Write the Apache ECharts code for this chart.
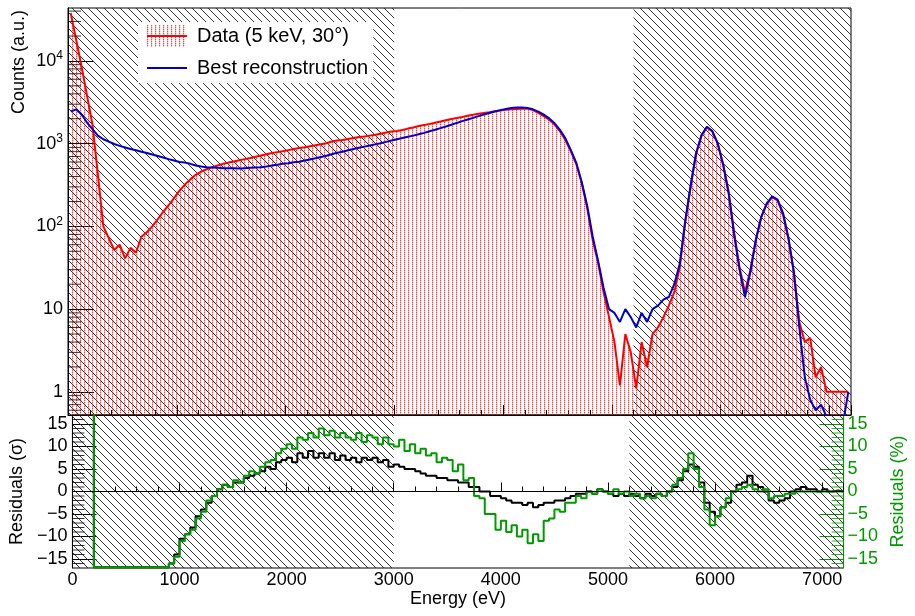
<!DOCTYPE html>
<html>
<head>
<meta charset="utf-8">
<script src="https://cdn.jsdelivr.net/npm/echarts@6/dist/echarts.min.js"></script>
<style>
html,body{margin:0;padding:0;background:#fff;}
#chart{width:915px;height:616px;}
</style>
</head>
<body>
<div id="chart"></div>
<script>
// ---------- data (50 eV bins starting at 0 eV) ----------
const binWidth = 50;
const energyMin = 0;
const energyMax = 7200;

const dataCounts = [
  38000, 18000, 8500, 3800, 1700, 420, 100, 72, 52, 60,
  41, 55, 48, 75, 85, 100, 122, 150, 180, 220,
  270, 320, 370, 420, 460, 490, 520, 545, 570, 590,
  610, 630, 650, 670, 695, 720, 745, 770, 790, 810,
  835, 860, 885, 905, 930, 955, 985, 1010, 1060, 1090,
  1110, 1140, 1170, 1200, 1220, 1250, 1280, 1320, 1360, 1400,
  1420, 1460, 1520, 1570, 1630, 1680, 1730, 1790, 1850, 1920,
  1980, 2040, 2100, 2170, 2230, 2300, 2350, 2400, 2460, 2510,
  2560, 2600, 2620, 2640, 2650, 2550, 2350, 2150, 1950, 1700,
  1400, 1100, 800, 560, 330, 165, 68, 36, 16, 8,
  4, 1.2, 5, 3, 1.1, 4, 2, 5, 6, 8,
  11, 16, 32, 110, 300, 750, 1250, 1580, 1400, 1000,
  560, 260, 85, 32, 16, 30, 70, 130, 185, 225,
  205, 140, 70, 27, 7, 4, 4.5, 1.5, 2, 1,
  1, 1, 1, 1
];

const recoCounts = [
  2450, 2600, 2250, 1800, 1500, 1250, 1130, 1060, 990, 940,
  900, 860, 830, 800, 770, 740, 710, 680, 650, 625,
  600, 590, 570, 545, 530, 520, 515, 510, 505, 505,
  505, 500, 505, 510, 515, 520, 530, 545, 555, 570,
  580, 595, 605, 625, 645, 665, 690, 715, 745, 775,
  800, 830, 860, 890, 920, 950, 980, 1010, 1050, 1090,
  1130, 1170, 1210, 1250, 1300, 1350, 1410, 1470, 1540, 1610,
  1690, 1780, 1870, 1960, 2050, 2150, 2250, 2350, 2450, 2540,
  2620, 2690, 2730, 2730, 2690, 2600, 2440, 2240, 2020, 1760,
  1460, 1150, 830, 580, 340, 175, 75, 38, 18, 10,
  9, 7, 10, 8, 6, 9, 7, 10, 11, 13,
  14, 20, 35, 115, 310, 760, 1260, 1600, 1420, 1000,
  550, 250, 80, 30, 14, 28, 68, 130, 190, 230,
  210, 145, 72, 28, 6, 1.5, 0.8, 0.6, 0.7, 0.5,
  0.4, 0.5, 0.4, 1.0
];

// residuals in sigma (black); values outside +-17 are off scale
const residSigma = [
  40, 40, 40, 40, -16.85, -16.85, -16.85, -16.85, -16.85, -16.85,
  -16.85, -16.85, -16.85, -16.85, -16.85, -16.85, -16.85, -16.85, -16, -14,
  -10.5, -9.5, -8, -5.5, -4, -2.5, -1, 0.5, 1.5, 1,
  2, 2, 3, 3.5, 4, 4.5, 5.5, 5, 6.5, 7,
  7.5, 6.5, 8.5, 7.5, 9, 7.5, 8.5, 7.5, 8.5, 7,
  8, 7, 7.5, 6.5, 7.5, 7, 7.5, 6.5, 7, 5.5,
  6, 5.5, 5, 5, 4.5, 4, 3.5, 3.5, 3, 3,
  2.5, 2.5, 2, 2, 1, 1, 0, 0, -1, -1,
  -1.5, -2, -2.5, -2.5, -3, -2.5, -3.5, -3, -2.5, -2.5,
  -2, -2, -1.5, -1, -0.5, -0.5, 0, -0.5, 0.5, 0,
  -0.5, -1, -0.5, -1, -0.5, -1, -1.5, -0.5, -1, -0.5,
  -1, 0, 1, 2.5, 4.5, 6, 5.5, 2, -2.5, -4.5,
  -5.5, -3.5, -2.5, 0, 1.5, 2, 3.5, 1.5, 1, 0,
  -2, -2.5, -2, -1.5, 0, 0.5, 1, 0.5, 0.5, 0,
  0.5, 0, 0.2, 0
];

// residuals in percent (green)
const residPercent = [
  40, 40, 40, 40, -16.85, -16.85, -16.85, -16.85, -16.85, -16.85,
  -16.85, -16.85, -16.85, -16.85, -16.85, -16.85, -16.85, -16.85, -16, -14.5,
  -11, -9.5, -8.5, -6, -4.5, -2, -1, 0.5, 1.5, 1,
  2.5, 2, 3.5, 4.5, 4, 5.5, 6.5, 7, 8.5, 9.5,
  10.5, 9.5, 12, 11.5, 13, 12, 14, 12.5, 13.5, 12,
  13, 12, 11.5, 13, 11, 12.5, 12, 10.5, 12, 10.5,
  10, 11.5, 9, 10.5, 8.5, 9.5, 8, 8.5, 6.5, 7.5,
  7, 4.5, 6, 2.5, 3, -1, -1.5, -5, -5, -8.5,
  -6.5, -9, -7.5, -10, -8.5, -11.5, -9.5, -11, -6.5, -6,
  -4, -4.5, -2.5, -2.5, -1, -1.5, 0, -0.5, 0.5, 0,
  -0.5, 0.5, -0.5, 0, -1, -0.5, -1.5, -1, -1.5, -0.5,
  -1, 0, 1.5, 3, 5, 8.5, 5, 1, -4, -7.5,
  -5.5, -3.5, -1.5, 0, 0.5, 1, 1.5, 0.5, 0, 0.5,
  -1.5, -1, -1, -0.5, -0.5, 0, 0, 0, 0, 0,
  0, 0, 0, 0
];

// excluded (hatched) energy ranges
const hatchRanges = [[0, 3000], [5200, 7200]];

// axis ranges and tick values
const countsRange = [0.525, 43600];
const residRange = [-17, 17];
const logMinorTicks = [0.6, 0.7, 0.8, 0.9, 2, 3, 4, 5, 6, 7, 8, 9, 20, 30, 40, 50, 60, 70, 80, 90,
  200, 300, 400, 500, 600, 700, 800, 900, 2000, 3000, 4000, 5000, 6000, 7000, 8000, 9000, 20000, 30000, 40000];
const residMinorTicks = [-16, -14, -13, -12, -11, -9, -8, -7, -6, -4, -3, -2, -1, 1, 2, 3, 4, 6, 7, 8, 9, 11, 12, 13, 14, 16];

const dataName = 'Data (5 keV, 30\u00B0)';
const recoName = 'Best reconstruction';

// ---------- helpers ----------
function toSteps(vals) {            // histogram outline from bin edges
  const pts = vals.map((v, i) => [energyMin + i * binWidth, v]);
  pts.push([energyMin + vals.length * binWidth, vals[vals.length - 1]]);
  return pts;
}
function toCenters(vals) {          // points at bin centres
  return vals.map((v, i) => [energyMin + (i + 0.5) * binWidth, v]);
}
function dotCanvas() {
  const c = document.createElement('canvas');
  c.width = 4; c.height = 2;
  const g = c.getContext('2d');
  g.fillStyle = 'rgba(255,0,0,0.75)'; g.fillRect(0, 0, 1, 1);
  g.fillStyle = 'rgba(255,0,0,0.18)'; g.fillRect(1, 0, 1, 1);
  g.fillStyle = 'rgba(255,0,0,0.3)'; g.fillRect(0, 1, 1, 1);
  return c;
}
function hatchCanvas() {
  const s = 8;
  const c = document.createElement('canvas');
  c.width = s; c.height = s;
  const g = c.getContext('2d');
  g.strokeStyle = 'rgba(30,30,30,0.9)';
  g.lineWidth = 1;
  g.beginPath();
  g.moveTo(-1, -1); g.lineTo(s + 1, s + 1);
  g.moveTo(-1, s - 1); g.lineTo(1, s + 1);
  g.moveTo(s - 1, -1); g.lineTo(s + 1, 1);
  g.stroke();
  return c;
}
function legendIcon(withFill, color) {
  const c = document.createElement('canvas');
  c.width = 40; c.height = 22;
  const g = c.getContext('2d');
  if (withFill) {
    g.fillStyle = g.createPattern(dotCanvas(), 'repeat');
    g.fillRect(0, 0, 40, 22);
  }
  g.strokeStyle = color; g.lineWidth = 2;
  g.beginPath(); g.moveTo(0, 11); g.lineTo(40, 11); g.stroke();
  return c.toDataURL();
}

const FONT = 'Liberation Sans, Arial, Helvetica, sans-serif';
const GREEN = '#009a00';
const RED = '#ff0000';
const BLUE = '#0000cc';
const dotPattern = { image: dotCanvas(), repeat: 'repeat' };
const hatchPattern = { image: hatchCanvas(), repeat: 'repeat' };
const hatchAreas = hatchRanges.map(r => [{ xAxis: r[0] }, { xAxis: r[1] }]);
const minus = v => String(v).replace('-', '\u2212');

const chart = echarts.init(document.getElementById('chart'), null, { renderer: 'canvas' });

const option = {
  animation: false,
  textStyle: { fontFamily: FONT },
  grid: [
    { left: 68, top: 8, width: 783, height: 407, show: true, borderColor: '#000', borderWidth: 1, backgroundColor: 'transparent' },
    { left: 68, top: 415, width: 783, height: 153, show: true, borderColor: '#000', borderWidth: 1, backgroundColor: 'transparent' }
  ],
  legend: {
    left: 138, top: 22, orient: 'vertical', backgroundColor: '#fff',
    padding: [3, 5, 4, 9], itemGap: 10, itemWidth: 40, itemHeight: 22,
    selectedMode: false, z: 20,
    textStyle: { fontSize: 20, color: '#000', fontFamily: FONT, padding: [0, 0, 0, 5] },
    data: [
      { name: dataName, icon: 'image://' + legendIcon(true, RED) },
      { name: recoName, icon: 'image://' + legendIcon(false, BLUE) }
    ]
  },
  xAxis: [
    {
      gridIndex: 0, type: 'value', min: energyMin, max: energyMax, interval: 1000,
      axisLine: { show: true, lineStyle: { color: '#000', width: 1 } },
      axisTick: { show: true, inside: true, length: 10, lineStyle: { color: '#000' } },
      minorTick: { show: true, splitNumber: 5, length: 5, lineStyle: { color: '#000' } },
      axisLabel: { show: false },
      splitLine: { show: false }
    },
    {
      gridIndex: 1, type: 'value', min: energyMin, max: energyMax, interval: 1000,
      axisLine: { show: true, lineStyle: { color: '#000', width: 1 } },
      axisTick: { show: true, inside: true, length: 9, lineStyle: { color: '#000' } },
      minorTick: { show: true, splitNumber: 5, length: 5, lineStyle: { color: '#000' } },
      axisLabel: { show: true, fontSize: 18, color: '#000', margin: 3, fontFamily: FONT, formatter: v => String(v) },
      splitLine: { show: false },
      name: 'Energy (eV)', nameLocation: 'middle', nameGap: 22,
      nameTextStyle: { fontSize: 18, color: '#000', fontFamily: FONT }
    }
  ],
  yAxis: [
    {
      gridIndex: 0, type: 'log', logBase: 10, min: countsRange[0], max: countsRange[1],
      axisLine: { show: true, lineStyle: { color: '#000', width: 1 } },
      axisTick: { show: true, inside: true, length: 26, lineStyle: { color: '#000' } },
      splitLine: { show: false },
      axisLabel: {
        show: true, fontSize: 18, color: '#000', margin: 5, fontFamily: FONT,
        showMinLabel: false, showMaxLabel: false,
        formatter: function (v) {
          const e = Math.round(Math.log10(v));
          if (e === 0) return '1';
          if (e === 1) return '10';
          return '10{sup|' + e + '}';
        },
        rich: { sup: { fontSize: 12, padding: [0, 0, 10, 0], fontFamily: FONT, color: '#000' } }
      },
      name: 'Counts (a.u.)', nameLocation: 'end', nameRotate: 90, nameGap: -2,
      nameTextStyle: { fontSize: 18, color: '#000', fontFamily: FONT, align: 'right', verticalAlign: 'bottom', padding: [0, 0, 40, 0] }
    },
    {
      gridIndex: 1, type: 'value', min: residRange[0], max: residRange[1], splitNumber: 7,
      axisLine: { show: true, lineStyle: { color: '#000', width: 1 } },
      axisTick: { show: true, inside: true, length: 24, lineStyle: { color: '#000' } },
      splitLine: { show: false },
      axisLabel: { show: true, fontSize: 18, color: '#000', margin: 5, fontFamily: FONT, showMinLabel: false, showMaxLabel: false, formatter: minus },
      name: 'Residuals (\u03C3)', nameLocation: 'middle', nameRotate: 90, nameGap: 42,
      nameTextStyle: { fontSize: 18, color: '#000', fontFamily: FONT }
    },
    {
      gridIndex: 1, type: 'value', position: 'right', min: residRange[0], max: residRange[1], splitNumber: 7,
      axisLine: { show: true, lineStyle: { color: GREEN, width: 1 } },
      axisTick: { show: true, inside: true, length: 24, lineStyle: { color: GREEN } },
      splitLine: { show: false },
      axisLabel: { show: true, fontSize: 18, color: GREEN, margin: 4, fontFamily: FONT, showMinLabel: false, showMaxLabel: false, formatter: minus },
      name: 'Residuals (%)', nameLocation: 'middle', nameRotate: 90, nameGap: 41,
      nameTextStyle: { fontSize: 18, color: GREEN, fontFamily: FONT }
    }
  ],
  series: [
    {
      name: dataName, type: 'line', xAxisIndex: 0, yAxisIndex: 0,
      data: toCenters(dataCounts), symbol: 'none', silent: true, z: 1,
      lineStyle: { width: 0, opacity: 0 },
      areaStyle: { color: dotPattern, origin: 'start', opacity: 1 }
    },
    {
      type: 'line', xAxisIndex: 0, yAxisIndex: 0,
      data: toCenters(dataCounts), symbol: 'none', silent: true, z: 2,
      lineStyle: { width: 0, opacity: 0 },
      markArea: { silent: true, itemStyle: { color: hatchPattern }, data: hatchAreas }
    },
    {
      name: dataName, type: 'line', xAxisIndex: 0, yAxisIndex: 0,
      data: toCenters(dataCounts), symbol: 'none', silent: true, z: 3,
      lineStyle: { color: RED, width: 2 }, itemStyle: { color: RED }
    },
    {
      name: recoName, type: 'line', xAxisIndex: 0, yAxisIndex: 0,
      data: toCenters(recoCounts), symbol: 'none', silent: true, z: 4,
      lineStyle: { color: BLUE, width: 2 }, itemStyle: { color: BLUE }
    },
    {
      type: 'scatter', xAxisIndex: 0, yAxisIndex: 0, silent: true, clip: false, z: 6,
      data: logMinorTicks.map(v => [energyMin, v]),
      symbol: 'rect', symbolSize: [13, 1], symbolOffset: [6.5, 0],
      itemStyle: { color: '#000' }
    },
    {
      type: 'line', xAxisIndex: 1, yAxisIndex: 1, step: 'end',
      data: toSteps(residSigma), symbol: 'none', silent: true, z: 2,
      lineStyle: { width: 0, opacity: 0 },
      markArea: { silent: true, itemStyle: { color: hatchPattern }, data: hatchAreas }
    },
    {
      name: 'Residuals (\u03C3)', type: 'line', xAxisIndex: 1, yAxisIndex: 1, step: 'end',
      data: toSteps(residSigma), symbol: 'none', silent: true, z: 3,
      lineStyle: { color: '#000', width: 2 },
      markLine: { silent: true, symbol: 'none', label: { show: false }, lineStyle: { color: '#000', width: 1, type: 'solid' }, data: [{ yAxis: 0 }] }
    },
    {
      name: 'Residuals (%)', type: 'line', xAxisIndex: 1, yAxisIndex: 2, step: 'end',
      data: toSteps(residPercent), symbol: 'none', silent: true, z: 4,
      lineStyle: { color: GREEN, width: 2 }
    },
    {
      type: 'scatter', xAxisIndex: 1, yAxisIndex: 1, silent: true, clip: false, z: 6,
      data: residMinorTicks.map(v => [energyMin, v]),
      symbol: 'rect', symbolSize: [12, 1], symbolOffset: [6, 0],
      itemStyle: { color: '#000' }
    },
    {
      type: 'scatter', xAxisIndex: 1, yAxisIndex: 2, silent: true, clip: false, z: 6,
      data: residMinorTicks.map(v => [energyMax, v]),
      symbol: 'rect', symbolSize: [12, 1], symbolOffset: [-6, 0],
      itemStyle: { color: GREEN }
    }
  ]
};
chart.setOption(option);
</script>
</body>
</html>
